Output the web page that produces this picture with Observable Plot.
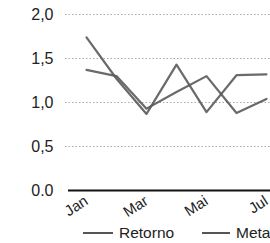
<!DOCTYPE html>
<html>
<head>
<meta charset="utf-8">
<script src="https://cdn.jsdelivr.net/npm/d3@7"></script>
<script src="https://cdn.jsdelivr.net/npm/@observablehq/plot@0.6"></script>
<style>
  html, body { margin: 0; padding: 0; background: #fff; overflow: hidden; width: 270px; height: 243px; }
  #chart svg { display: block; }
  #legend { position: relative; height: 21px; font-family: "Liberation Sans", Arial, sans-serif; font-size: 15.5px; color: #222; white-space: nowrap; }
  .item { position: absolute; top: 2px; display: flex; align-items: center; }
  .swatch { display: inline-block; width: 30px; height: 0; border-top: 2px solid #555; margin-right: 6px; }
</style>
</head>
<body>
<div id="chart"></div>
<div id="legend"></div>
<script>
const months = ["Jan", "Fev", "Mar", "Abr", "Mai", "Jun", "Jul"];
const retorno = [1.74, 1.27, 0.87, 1.43, 0.89, 1.31, 1.32];
const meta = [1.37, 1.30, 0.93, 1.12, 1.30, 0.88, 1.04];
const xTickLabels = ["Jan", "Mar", "Mai", "Jul"];
const yTicks = [0, 0.5, 1.0, 1.5, 2.0];
const yTickLabels = ["0.0", "0,5", "1,0", "1,5", "2,0"];
const seriesNames = ["Retorno", "Meta"];

const data = [];
months.forEach((m, i) => {
  data.push({month: m, value: retorno[i], series: seriesNames[0]});
  data.push({month: m, value: meta[i], series: seriesNames[1]});
});

const chart = Plot.plot({
  width: 270,
  height: 222,
  marginLeft: 84,
  marginRight: 2,
  marginTop: 14,
  marginBottom: 32,
  style: {fontFamily: "'Liberation Sans', Arial, sans-serif", fontSize: "15px", color: "#222", background: "#fff"},
  x: {type: "point", domain: months, padding: 0, label: null},
  y: {domain: [0, 2], label: null},
  marks: [
    Plot.ruleY(yTicks.filter(d => d > 0), {stroke: "#aaa", strokeWidth: 1, strokeDasharray: "1.5,2", insetLeft: -19, insetRight: -2}),
    Plot.ruleY([0], {stroke: "#111", strokeWidth: 2, insetLeft: -16, insetRight: -2}),
    Plot.axisY({ticks: yTicks, tickSize: 0, tickPadding: 31, tickFormat: (d) => yTickLabels[yTicks.indexOf(d)], fontSize: 16, label: null}),
    Plot.axisX({ticks: xTickLabels, tickSize: 0, tickPadding: 9, tickRotate: -33, fontSize: 15, dx: 0, label: null}),
    Plot.line(data, {x: "month", y: "value", z: "series", stroke: "#5a5a5a", strokeWidth: 2.2, strokeOpacity: 0.9})
  ]
});
document.getElementById("chart").appendChild(chart);

const legend = document.getElementById("legend");
const lefts = [83, 202];
seriesNames.forEach((name, i) => {
  const item = document.createElement("div");
  item.className = "item";
  item.style.left = lefts[i] + "px";
  const sw = document.createElement("span");
  sw.className = "swatch";
  sw.style.width = (i === 0 ? 30 : 28) + "px";
  const label = document.createElement("span");
  label.textContent = name;
  item.appendChild(sw);
  item.appendChild(label);
  legend.appendChild(item);
});
</script>
</body>
</html>
